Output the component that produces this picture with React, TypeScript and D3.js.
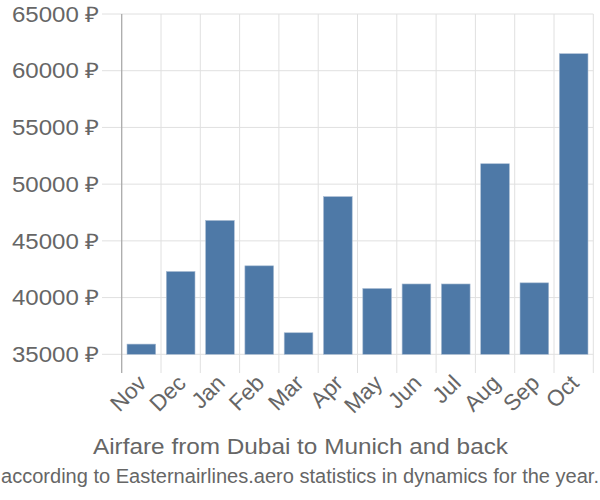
import React from "react";
import * as d3 from "d3";

const months = ["Nov", "Dec", "Jan", "Feb", "Mar", "Apr", "May", "Jun", "Jul", "Aug", "Sep", "Oct"];
const prices = [35900, 42300, 46800, 42800, 36900, 48900, 40800, 41200, 41200, 51800, 41300, 61500];
const yTicks = [35000, 40000, 45000, 50000, 55000, 60000, 65000];
const title = "Airfare from Dubai to Munich and back";
const subtitle = "according to Easternairlines.aero statistics in dynamics for the year.";

export default function App() {
  const W = 600, H = 500;
  const left = 121.7, right = 593.3, top = 14, bottom = 354.3;
  const x = d3.scaleBand<string>().domain(months).range([left, right]).paddingInner(0.27).paddingOuter(0.135);
  const y = d3.scaleLinear().domain([35000, 65000]).range([bottom, top]);
  const step = x.step();
  const font = "'Liberation Sans', Arial, sans-serif";
  const grid = "#e0e0e0";
  const txt = "#666666";
  return (
    <svg width={W} height={H} style={{ position: "absolute", left: 0, top: 0 }} fontFamily={font}>
      <rect width={W} height={H} fill="#fff" />
      {yTicks.map((t) => (
        <g key={t}>
          <line x1={102} x2={right} y1={y(t)} y2={y(t)} stroke={grid} strokeWidth={1} />
          <text x={100} y={y(t)} dy="0.36em" textAnchor="end" fontSize={21.5} fill={txt} textLength={88} lengthAdjust="spacingAndGlyphs">
            {t} ₽
          </text>
        </g>
      ))}
      {months.map((m, i) => (
        <line key={m} x1={left + step * (i + 1)} x2={left + step * (i + 1)} y1={top} y2={373} stroke={grid} strokeWidth={1} />
      ))}
      <line x1={left} x2={left} y1={top} y2={373} stroke="#aaaaaa" strokeWidth={1.3} />
      {months.map((m, i) => (
        <rect
          key={m}
          x={x(m)}
          y={y(prices[i])}
          width={x.bandwidth()}
          height={y(35000) - y(prices[i])}
          fill="#4e79a7"
          stroke="#a9bcd3"
          strokeWidth={0.6}
        />
      ))}
      {months.map((m) => {
        const cx = (x(m) as number) + x.bandwidth() / 2;
        return (
          <text key={m} transform={`translate(${cx - 5},${373}) rotate(-45)`} textAnchor="end" dy="0.72em" fontSize={22.5} fill={txt}>
            {m}
          </text>
        );
      })}
      <text x={93} y={454} fontSize={21.5} fill={txt} textLength={415} lengthAdjust="spacingAndGlyphs">
        {title}
      </text>
      <text x={1} y={483} fontSize={20} fill={txt} textLength={598} lengthAdjust="spacingAndGlyphs">
        {subtitle}
      </text>
    </svg>
  );
}
